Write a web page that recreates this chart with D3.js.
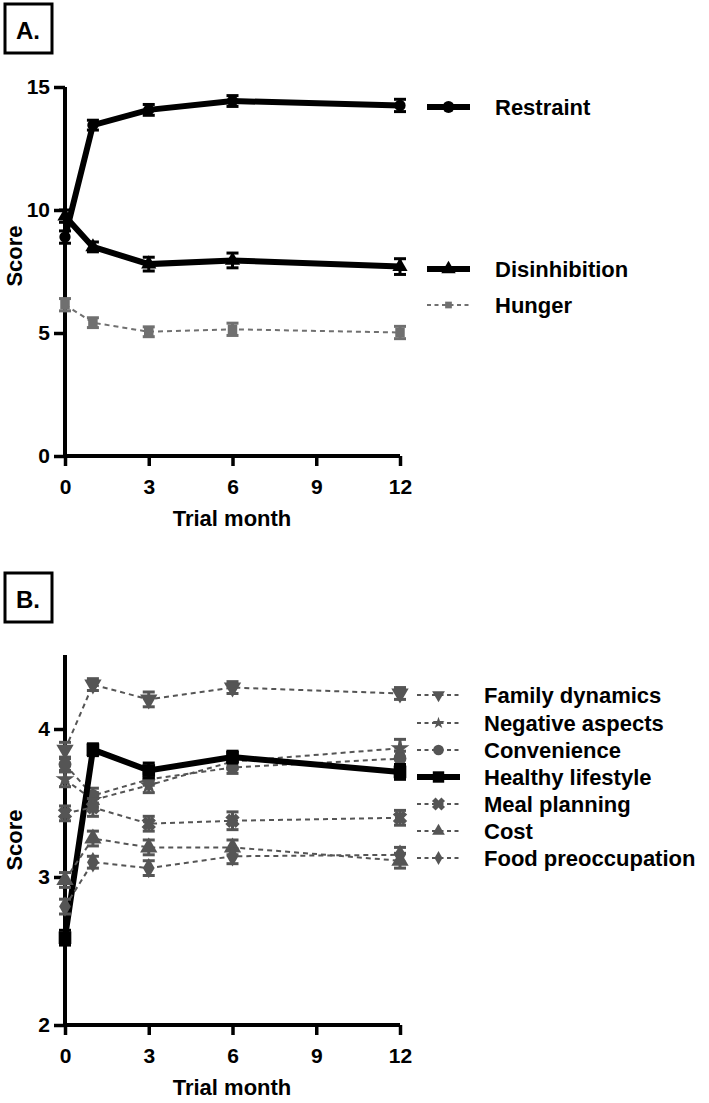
<!DOCTYPE html>
<html><head><meta charset="utf-8">
<script src="https://cdn.jsdelivr.net/npm/d3@7"></script>
<style>body{margin:0;background:#fff;} text{font-family:Arial,"Liberation Sans",sans-serif;font-weight:bold;}</style>
</head><body>
<svg id="c" width="709" height="1103"></svg>
<script>
const months = [0, 1, 3, 6, 12];
const xTicks = [0, 3, 6, 9, 12];
const xTitle = "Trial month";
const yTitle = "Score";

// Panel A
const aTicks = [0, 5, 10, 15];
const aNames = ["Restraint", "Disinhibition", "Hunger"];
const restraint = [8.9, 13.45, 14.07, 14.43, 14.25];
const restraintErr = [0.25, 0.2, 0.22, 0.22, 0.25];
const disinhibition = [9.75, 8.5, 7.8, 7.95, 7.7];
const disinhibitionErr = [0.25, 0.2, 0.28, 0.3, 0.32];
const hunger = [6.15, 5.42, 5.05, 5.15, 5.02];
const hungerErr = [0.25, 0.2, 0.2, 0.25, 0.25];

// Panel B
const bTicks = [2, 3, 4];
const bNames = ["Family dynamics", "Negative aspects", "Convenience", "Healthy lifestyle", "Meal planning", "Cost", "Food preoccupation"];
const familyDynamics = [3.86, 4.30, 4.20, 4.28, 4.24];
const familyDynamicsErr = [0.05, 0.04, 0.05, 0.04, 0.04];
const negativeAspects = [3.66, 3.52, 3.62, 3.78, 3.87];
const negativeAspectsErr = [0.05, 0.05, 0.05, 0.05, 0.06];
const convenience = [3.76, 3.55, 3.66, 3.74, 3.80];
const convenienceErr = [0.04, 0.05, 0.04, 0.04, 0.05];
const healthyLifestyle = [2.59, 3.86, 3.72, 3.81, 3.71];
const healthyLifestyleErr = [0.05, 0.04, 0.05, 0.04, 0.05];
const mealPlanning = [3.43, 3.47, 3.36, 3.38, 3.40];
const mealPlanningErr = [0.05, 0.06, 0.05, 0.06, 0.05];
const cost = [2.98, 3.26, 3.20, 3.20, 3.11];
const costErr = [0.05, 0.05, 0.05, 0.05, 0.05];
const foodPreoccupation = [2.80, 3.10, 3.06, 3.14, 3.15];
const foodPreoccupationErr = [0.05, 0.04, 0.05, 0.05, 0.05];

const svg = d3.select("#c");
const x = d3.scaleLinear().domain([0, 12]).range([65, 400]);
const GRAY = "#555";

function sym(type, size){ return d3.symbol().type(type).size(size)(); }
const invTri = { draw(ctx, size){ const s = Math.sqrt(size / (Math.sqrt(3)/4)); const h = s*Math.sqrt(3)/2; ctx.moveTo(-s/2,-h/3); ctx.lineTo(s/2,-h/3); ctx.lineTo(0,2*h/3); ctx.closePath(); } };
const fatX = { draw(ctx, size){ const r = Math.sqrt(size) * 0.55, w = r * 0.55;
  const pts = [[-r,-r+w],[-r+w,-r],[0,-w],[r-w,-r],[r,-r+w],[w,0],[r,r-w],[r-w,r],[0,w],[-r+w,r],[-r,r-w],[-w,0]];
  ctx.moveTo(pts[0][0], pts[0][1]); pts.slice(1).forEach(p => ctx.lineTo(p[0], p[1])); ctx.closePath(); } };

function panel(cfg){
  const y = d3.scaleLinear().domain(cfg.domain).range(cfg.range);
  const g = svg.append("g");
  g.append("rect").attr("x", 5).attr("y", cfg.boxY).attr("width", 47).attr("height", 49)
    .attr("fill", "none").attr("stroke", "#000").attr("stroke-width", 3);
  g.append("text").attr("x", 28).attr("y", cfg.boxY + 35).attr("text-anchor", "middle")
    .attr("font-size", 24).text(cfg.label);
  const ya = g.append("g").attr("transform", "translate(65,0)")
    .call(d3.axisLeft(y).tickValues(cfg.ticks).tickSize(11).tickPadding(4).tickFormat(d3.format("d")));
  const xa = g.append("g").attr("transform", `translate(0,${cfg.range[0]})`)
    .call(d3.axisBottom(x).tickValues(xTicks).tickSize(10).tickPadding(13));
  [ya, xa].forEach(a => {
    a.select(".domain").attr("stroke-width", 4).attr("stroke", "#000");
    a.selectAll(".tick line").attr("stroke-width", 3.5).attr("stroke", "#000");
    a.selectAll(".tick text").attr("font-size", 21).attr("fill", "#000")
      .attr("font-family", "Arial, 'Liberation Sans', sans-serif").attr("font-weight", "bold");
  });
  ya.select(".domain").attr("d", `M0,${cfg.range[1]}V${cfg.range[0]}`);
  xa.select(".domain").attr("d", `M${x(0)},0H${x(12)}`);
  g.append("text").attr("x", 232).attr("y", cfg.range[0] + 70).attr("text-anchor", "middle")
    .attr("font-size", 22).text(xTitle);
  g.append("text").attr("transform", `translate(22,${cfg.yTitleY}) rotate(-90)`)
    .attr("text-anchor", "middle").attr("font-size", 22).text(yTitle);

  const line = d3.line().x(d => x(d.m)).y(d => y(d.v));
  cfg.series.forEach(s => {
    const pts = months.map((m, i) => ({ m, v: s.vals[i], e: s.err[i] }));
    const sg = g.append("g");
    sg.append("path").datum(pts).attr("d", line).attr("fill", "none")
      .attr("stroke", s.color).attr("stroke-width", s.width)
      .attr("stroke-dasharray", s.dash || null);
    pts.forEach(p => {
      const cw = 6;
      const y1 = y(p.v - p.e), y2 = y(p.v + p.e);
      sg.append("line").attr("x1", x(p.m)).attr("x2", x(p.m)).attr("y1", y1).attr("y2", y2)
        .attr("stroke", s.color).attr("stroke-width", 3);
      [y1, y2].forEach(yy => sg.append("line").attr("x1", x(p.m) - cw).attr("x2", x(p.m) + cw)
        .attr("y1", yy).attr("y2", yy).attr("stroke", s.color).attr("stroke-width", 3));
    });
    sg.selectAll("path.m").data(pts).join("path").attr("class", "m")
      .attr("transform", p => `translate(${x(p.m)},${y(p.v)})`)
      .attr("d", sym(s.symbol, s.size)).attr("fill", s.color);
  });
  cfg.series.forEach((s, i) => {
    const ly = cfg.legendY[i];
    const lg = g.append("g");
    lg.append("line").attr("x1", cfg.legX0).attr("x2", cfg.legX1).attr("y1", ly).attr("y2", ly)
      .attr("stroke", s.color).attr("stroke-width", s.dash ? 1.8 : s.width)
      .attr("stroke-dasharray", s.dash ? "4,3.5" : null);
    lg.append("path").attr("transform", `translate(${(cfg.legX0 + cfg.legX1) / 2},${ly})`)
      .attr("d", sym(s.symbol, s.legSize)).attr("fill", s.color);
    lg.append("text").attr("x", cfg.legTextX).attr("y", ly + 8).attr("font-size", 22).text(s.name);
  });
}

panel({
  label: "A.", boxY: 4, domain: [0, 15], range: [456, 87], ticks: aTicks, yTitleY: 256,
  legX0: 427, legX1: 470, legTextX: 495, legendY: [107, 269, 305],
  series: [
    { name: aNames[0], vals: restraint, err: restraintErr, color: "#000", width: 6, symbol: d3.symbolCircle, size: 100, legSize: 110 },
    { name: aNames[1], vals: disinhibition, err: disinhibitionErr, color: "#000", width: 6, symbol: d3.symbolTriangle, size: 100, legSize: 90 },
    { name: aNames[2], vals: hunger, err: hungerErr, color: "#707070", width: 2, dash: "5,4", symbol: d3.symbolSquare, size: 90, legSize: 45 }
  ]
});

panel({
  label: "B.", boxY: 573, domain: [2, 4.5], range: [1025, 655], ticks: bTicks, yTitleY: 840,
  legX0: 417, legX1: 460, legTextX: 484, legendY: [695, 723, 750, 777, 804, 831, 858],
  series: [
    { name: bNames[0], vals: familyDynamics, err: familyDynamicsErr, color: GRAY, width: 2, dash: "5,4", symbol: invTri, size: 130, legSize: 70 },
    { name: bNames[1], vals: negativeAspects, err: negativeAspectsErr, color: GRAY, width: 2, dash: "5,4", symbol: d3.symbolStar, size: 110, legSize: 45 },
    { name: bNames[2], vals: convenience, err: convenienceErr, color: GRAY, width: 2, dash: "5,4", symbol: d3.symbolCircle, size: 130, legSize: 90 },
    { name: bNames[3], vals: healthyLifestyle, err: healthyLifestyleErr, color: "#000", width: 6, symbol: d3.symbolSquare, size: 160, legSize: 130 },
    { name: bNames[4], vals: mealPlanning, err: mealPlanningErr, color: GRAY, width: 2, dash: "5,4", symbol: fatX, size: 170, legSize: 140 },
    { name: bNames[5], vals: cost, err: costErr, color: GRAY, width: 2, dash: "5,4", symbol: d3.symbolTriangle, size: 130, legSize: 70 },
    { name: bNames[6], vals: foodPreoccupation, err: foodPreoccupationErr, color: GRAY, width: 2, dash: "5,4", symbol: d3.symbolDiamond, size: 120, legSize: 55 }
  ]
});
</script>
</body></html>
